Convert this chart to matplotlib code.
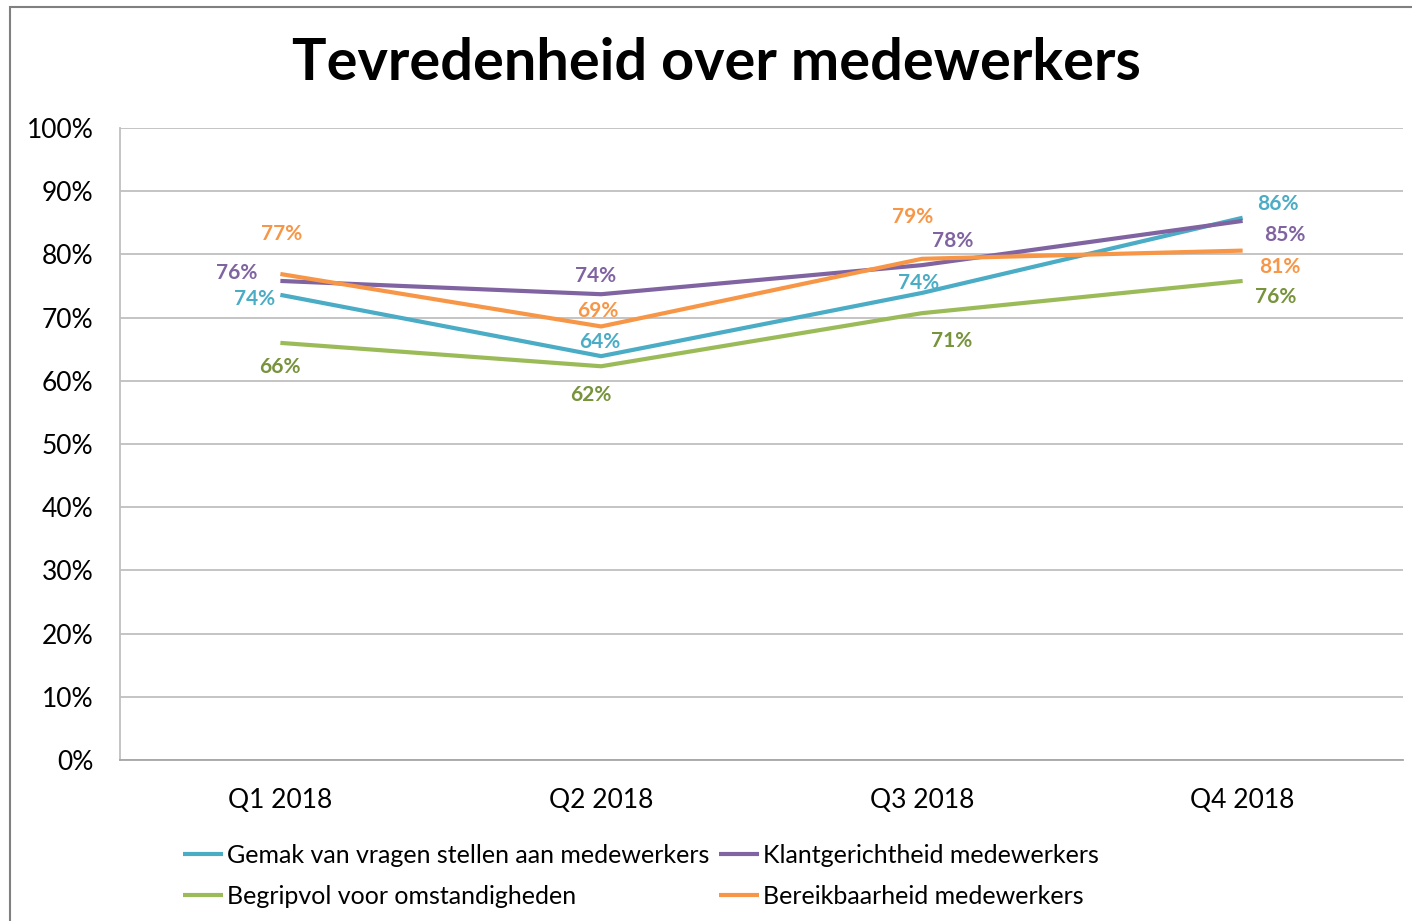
import matplotlib.pyplot as plt
from matplotlib.patches import Rectangle
import numpy as np

plt.rcParams['font.family'] = ['Lato', 'DejaVu Sans']

# chart data
quarters = ['Q1 2018', 'Q2 2018', 'Q3 2018', 'Q4 2018']
gemak = [73.6, 63.9, 73.9, 85.8]
klant = [75.8, 73.7, 78.3, 85.3]
begrip = [66.0, 62.3, 70.7, 75.8]
bereik = [76.9, 68.6, 79.3, 80.6]

names = ['Gemak van vragen stellen aan medewerkers',
         'Klantgerichtheid medewerkers',
         'Begripvol voor omstandigheden',
         'Bereikbaarheid medewerkers']
series = [gemak, klant, begrip, bereik]
line_colors = ['#4BACC6', '#8064A2', '#9BBB59', '#F79646']
label_colors = ['#4BACC6', '#8064A2', '#77933C', '#F79646']

# label offsets in pixels (dx, dy) per series per quarter
offsets = [
    [(-26, -4), (-1, 14), (-3, 10), (35, 14)],
    [(-44, 8), (-6, 18), (31, 24), (42, -14)],
    [(-1, -24), (-10, -29), (30, -28), (33, -16)],
    [(1, 40), (-3, 15), (-9, 42), (37, -16)],
]

fig = plt.figure(figsize=(14.12, 9.21), dpi=100)
ax = fig.add_axes([120 / 1412, 1 - 760 / 921, (1403 - 120) / 1412, (760 - 128) / 921])

x = np.arange(len(quarters))
handles = []
for vals, name, lc, tc, offs in zip(series, names, line_colors, label_colors, offsets):
    h, = ax.plot(x, vals, color=lc, lw=3, label=name, solid_capstyle='butt')
    handles.append(h)
    for xi, v, (dx, dy) in zip(x, vals, offs):
        ax.annotate('%d%%' % round(v), (xi, v), xytext=(dx, dy), textcoords='offset pixels',
                    ha='center', va='center', color=tc, fontsize=15, fontweight='bold')

ax.set_xlim(-0.5, 3.5)
ax.set_ylim(0, 100)
ax.set_yticks(np.arange(0, 101, 10))
ax.set_yticklabels(['%d%%' % t for t in range(0, 101, 10)])
ax.set_xticks(x)
ax.set_xticklabels(quarters)
ax.tick_params(axis='both', length=0, labelsize=19, colors='black')
ax.tick_params(axis='x', pad=20)
ax.tick_params(axis='y', pad=19)
ax.grid(axis='y', color='#BFBFBF', lw=1.3)
ax.set_axisbelow(True)
for s in ['top', 'right']:
    ax.spines[s].set_visible(False)
ax.spines['left'].set_color('#BFBFBF')
ax.spines['left'].set_linewidth(1.3)
ax.spines['bottom'].set_color('#A6A6A6')
ax.spines['bottom'].set_linewidth(1.3)

fig.text(716 / 1412, 1 - 64 / 921, 'Tevredenheid over medewerkers', ha='center', va='center',
         fontsize=41.5, fontweight='bold')

# legend, row-major order like the original
order = [0, 2, 1, 3]
fig.legend([handles[i] for i in order], [names[i] for i in order], ncol=2,
           loc='upper left', bbox_to_anchor=(173 / 1412, 1 - 834 / 921), frameon=False,
           fontsize=18, handlelength=1.6, handletextpad=0.15, columnspacing=0.4,
           labelspacing=0.72, borderaxespad=0)

# outer chart frame
fig.patches.append(Rectangle((10 / 1412, -0.1), 1.2, 1 - 7 / 921 + 0.1, transform=fig.transFigure,
                             fill=False, edgecolor='#808080', lw=1.5))

fig.savefig('out.png', dpi=100)
